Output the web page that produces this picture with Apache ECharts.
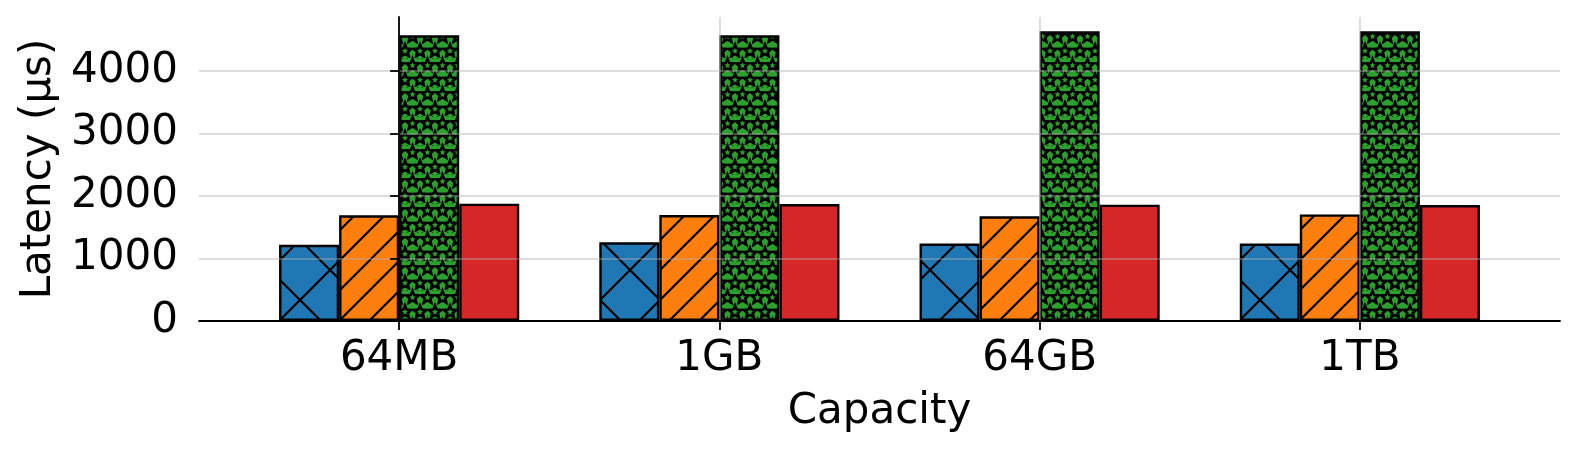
<!DOCTYPE html>
<html>
<head>
<meta charset="utf-8">
<script src="https://cdn.jsdelivr.net/npm/echarts@6/dist/echarts.min.js"></script>
<style>
  html, body { margin: 0; padding: 0; background: #fff; }
  #chart { width: 1577px; height: 451px; }
</style>
</head>
<body>
<div id="chart"></div>
<script>
const categories = ["64MB", "1GB", "64GB", "1TB"];
const yTicks = [0, 1000, 2000, 3000, 4000];

// latency per capacity, one array per bar series
const blueValues = [1220, 1260, 1240, 1240];
const orangeValues = [1690, 1695, 1675, 1705];
const greenValues = [4570, 4570, 4635, 4635];
const redValues = [1877, 1872, 1861, 1856];

const font = "DejaVu Sans";

function hatchCanvas(w, h, bg, draw) {
  const c = document.createElement("canvas");
  c.width = w;
  c.height = h;
  const ctx = c.getContext("2d");
  ctx.fillStyle = bg;
  ctx.fillRect(0, 0, w, h);
  ctx.strokeStyle = "#000";
  ctx.fillStyle = "#000";
  draw(ctx, w, h);
  return c;
}

// crosshatch 'x'
const crossTile = hatchCanvas(60, 60, "#1f77b4", (ctx, w, h) => {
  ctx.lineWidth = 2.2;
  ctx.beginPath();
  ctx.moveTo(-10, -10); ctx.lineTo(w + 10, h + 10);
  ctx.moveTo(-10, h + 10); ctx.lineTo(w + 10, -10);
  ctx.stroke();
});

// diagonal '/'
const slashTile = hatchCanvas(30, 30, "#ff7f0e", (ctx, w, h) => {
  ctx.lineWidth = 2.2;
  ctx.beginPath();
  ctx.moveTo(-5, h + 5); ctx.lineTo(w + 5, -5);
  ctx.moveTo(-5, 5); ctx.lineTo(5, -5);
  ctx.moveTo(w - 5, h + 5); ctx.lineTo(w + 5, h - 5);
  ctx.stroke();
});

function star(ctx, cx, cy, r) {
  ctx.beginPath();
  for (let i = 0; i < 10; i++) {
    const rr = i % 2 === 0 ? r : r * 0.45;
    const a = -Math.PI / 2 + i * Math.PI / 5;
    const px = cx + rr * Math.cos(a);
    const py = cy + rr * Math.sin(a);
    if (i === 0) ctx.moveTo(px, py); else ctx.lineTo(px, py);
  }
  ctx.closePath();
  ctx.stroke();
}

// stars '*'
const starTile = hatchCanvas(15, 29, "#2ca02c", (ctx, w, h) => {
  ctx.lineWidth = 2.6;
  ctx.lineJoin = "miter";
  star(ctx, 7.5, 7.5, 6.5);
  star(ctx, 0, 22, 6.5);
  star(ctx, 15, 22, 6.5);
  star(ctx, 7.5, -7, 6.5);
  star(ctx, 7.5, 36, 6.5);
});

function toPoints(values) {
  return values.map((v, i) => [i, v]);
}

function barSeries(name, values, fill) {
  return {
    name: name,
    type: "bar",
    barWidth: "18.75%",
    barGap: "0%",
    itemStyle: {
      color: fill,
      borderColor: "#000",
      borderWidth: 2.4,
    },
    data: toPoints(values),
  };
}

const option = {
  animation: false,
  backgroundColor: "#fff",
  grid: {
    left: 199,
    right: 17,
    top: 17,
    bottom: 130,
  },
  xAxis: {
    type: "value",
    min: -0.625,
    max: 3.625,
    name: "Capacity",
    nameLocation: "middle",
    nameGap: 70,
    nameTextStyle: { fontFamily: font, fontSize: 42, color: "#000" },
    z: 5,
    axisLine: { show: true, lineStyle: { color: "#000", width: 1.8 } },
    axisTick: {
      show: true,
      length: 9,
      customValues: categories.map((c, i) => i),
      lineStyle: { color: "#000", width: 1.8 },
    },
    axisLabel: {
      customValues: categories.map((c, i) => i),
      formatter: (v) => categories[Math.round(v)],
      fontFamily: font,
      fontSize: 42,
      color: "#000",
      margin: 17,
    },
    splitLine: {
      show: true,
      lineStyle: { color: "rgba(176,176,176,0.55)", width: 1.6 },
    },
  },
  yAxis: {
    type: "value",
    min: 0,
    max: 4864,
    name: "Latency (µs)",
    nameLocation: "middle",
    nameGap: 132,
    nameTextStyle: { fontFamily: font, fontSize: 42, color: "#000" },
    z: 5,
    axisLine: { show: true, lineStyle: { color: "#000", width: 1.8 } },
    axisTick: {
      show: true,
      length: 9,
      customValues: yTicks,
      lineStyle: { color: "#000", width: 1.8 },
    },
    axisLabel: {
      customValues: yTicks,
      formatter: (v) => String(v),
      fontFamily: font,
      fontSize: 42,
      color: "#000",
      margin: 21,
    },
    splitLine: {
      show: true,
      lineStyle: { color: "rgba(176,176,176,0.55)", width: 1.6 },
    },
  },
  series: [
    barSeries("A", blueValues, { image: crossTile, repeat: "repeat" }),
    barSeries("B", orangeValues, { image: slashTile, repeat: "repeat" }),
    barSeries("C", greenValues, { image: starTile, repeat: "repeat" }),
    barSeries("D", redValues, "#d62728"),
  ],
};

const chart = echarts.init(document.getElementById("chart"));
chart.setOption(option);
</script>
</body>
</html>
